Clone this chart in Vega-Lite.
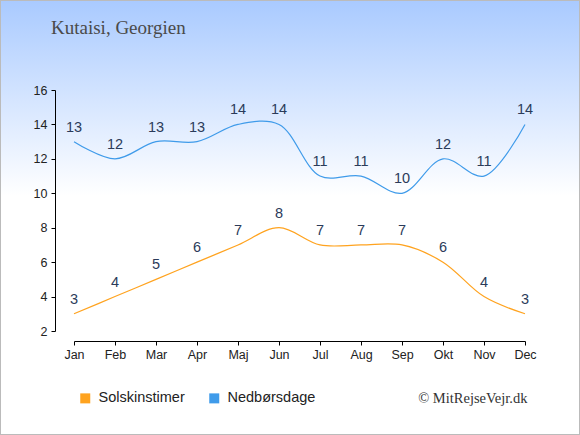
{
  "$schema": "https://vega.github.io/schema/vega-lite/v6.json",
  "width": 580,
  "height": 435,
  "autosize": "none",
  "padding": 0,
  "background": "#ffffff",
  "config": {
    "view": {
      "fill": {
        "gradient": "linear",
        "x1": 0, "y1": 0, "x2": 0, "y2": 1,
        "stops": [
          {"offset": 0, "color": "#a9caff"},
          {"offset": 0.45, "color": "#ffffff"},
          {"offset": 1, "color": "#ffffff"}
        ]
      },
      "stroke": "#bbbbbb",
      "strokeWidth": 2
    },
    "axis": {
      "labelFont": "Liberation Sans",
      "labelFontSize": 12.5,
      "labelColor": "#222222",
      "domainColor": "#000000",
      "tickColor": "#000000",
      "grid": false
    }
  },
  "title": {
    "text": "Kutaisi, Georgien",
    "anchor": "start",
    "frame": "group",
    "orient": "top",
    "offset": -38,
    "dx": 51,
    "font": "Liberation Serif",
    "fontSize": 19,
    "fontWeight": "normal",
    "color": "#4a4a4a"
  },
  "data": {
    "values": [
      {"month": "Jan", "serie": "Solskinstimer", "value": 3},
      {"month": "Feb", "serie": "Solskinstimer", "value": 4},
      {"month": "Mar", "serie": "Solskinstimer", "value": 5},
      {"month": "Apr", "serie": "Solskinstimer", "value": 6},
      {"month": "Maj", "serie": "Solskinstimer", "value": 7},
      {"month": "Jun", "serie": "Solskinstimer", "value": 8},
      {"month": "Jul", "serie": "Solskinstimer", "value": 7},
      {"month": "Aug", "serie": "Solskinstimer", "value": 7},
      {"month": "Sep", "serie": "Solskinstimer", "value": 7},
      {"month": "Okt", "serie": "Solskinstimer", "value": 6},
      {"month": "Nov", "serie": "Solskinstimer", "value": 4},
      {"month": "Dec", "serie": "Solskinstimer", "value": 3},
      {"month": "Jan", "serie": "Nedbørsdage", "value": 13},
      {"month": "Feb", "serie": "Nedbørsdage", "value": 12},
      {"month": "Mar", "serie": "Nedbørsdage", "value": 13},
      {"month": "Apr", "serie": "Nedbørsdage", "value": 13},
      {"month": "Maj", "serie": "Nedbørsdage", "value": 14},
      {"month": "Jun", "serie": "Nedbørsdage", "value": 14},
      {"month": "Jul", "serie": "Nedbørsdage", "value": 11},
      {"month": "Aug", "serie": "Nedbørsdage", "value": 11},
      {"month": "Sep", "serie": "Nedbørsdage", "value": 10},
      {"month": "Okt", "serie": "Nedbørsdage", "value": 12},
      {"month": "Nov", "serie": "Nedbørsdage", "value": 11},
      {"month": "Dec", "serie": "Nedbørsdage", "value": 14}
    ]
  },
  "encoding": {
    "x": {
      "field": "month",
      "type": "ordinal",
      "sort": ["Jan", "Feb", "Mar", "Apr", "Maj", "Jun", "Jul", "Aug", "Sep", "Okt", "Nov", "Dec"],
      "scale": {"type": "point", "padding": 0, "range": [74, 525]},
      "axis": {
        "orient": "bottom",
        "offset": -94,
        "labelAngle": 0,
        "tickSize": 4,
        "labelPadding": 3,
        "title": "© MitRejseVejr.dk",
        "titleFont": "Liberation Serif",
        "titleFontSize": 14.5,
        "titleFontWeight": "normal",
        "titleColor": "#333333",
        "titleAnchor": "end",
        "titleAlign": "right",
        "titleBaseline": "alphabetic",
        "titleX": 527,
        "titleY": 61
      }
    },
    "y": {
      "field": "value",
      "type": "quantitative",
      "scale": {"domain": [2, 16], "range": [331, 90], "nice": false, "zero": false},
      "axis": {
        "orient": "left",
        "offset": -55,
        "values": [2, 4, 6, 8, 10, 12, 14, 16],
        "tickSize": 4,
        "labelPadding": 4,
        "title": null
      }
    }
  },
  "layer": [
    {
      "mark": {"type": "line", "interpolate": "catmull-rom", "strokeWidth": 1.2},
      "encoding": {
        "color": {
          "field": "serie",
          "type": "nominal",
          "scale": {"domain": ["Solskinstimer", "Nedbørsdage"], "range": ["#ffa31f", "#3f9bea"]},
          "legend": {
            "title": null,
            "orient": "none",
            "direction": "horizontal",
            "legendX": 78,
            "legendY": 391,
            "symbolType": "square",
            "symbolSize": 100,
            "symbolStrokeWidth": 0,
            "symbolOpacity": 1,
            "labelFont": "Liberation Sans",
            "labelFontSize": 14.5,
            "labelColor": "#222222",
            "labelOffset": 6,
            "columnPadding": 22,
            "padding": 0,
            "encode": {
              "symbols": {
                "update": {
                  "fill": {"scale": "color", "field": "value"},
                  "strokeWidth": {"value": 0}
                }
              }
            }
          }
        }
      }
    },
    {
      "mark": {
        "type": "text",
        "dy": -14,
        "baseline": "middle",
        "font": "Liberation Sans",
        "fontSize": 14.5,
        "color": "#2b3b5a"
      },
      "encoding": {
        "text": {"field": "value", "type": "quantitative"},
        "detail": {"field": "serie"}
      }
    }
  ]
}
